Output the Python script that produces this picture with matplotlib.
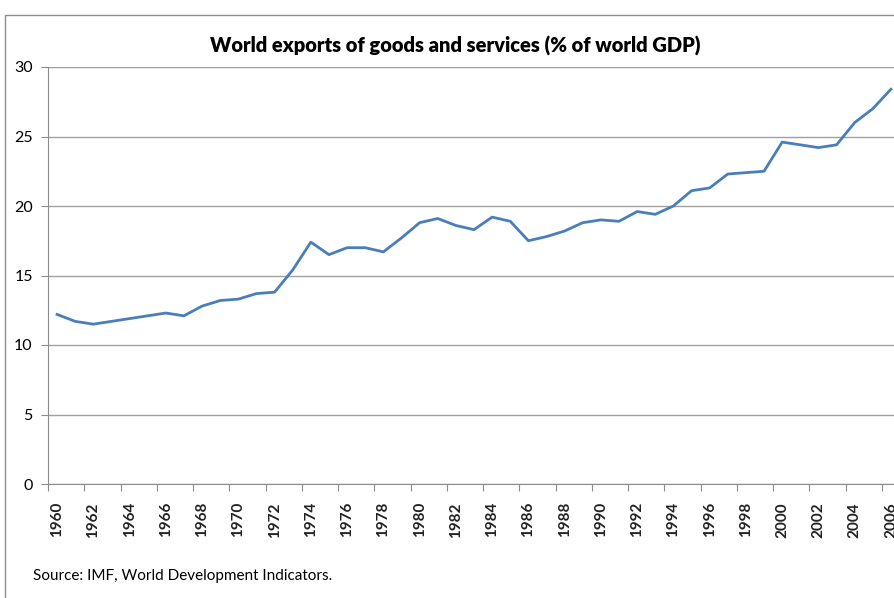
import matplotlib
matplotlib.use('Agg')
import matplotlib.pyplot as plt
from matplotlib.patches import Rectangle

# World exports of goods and services, % of world GDP
years = list(range(1960, 2007))
exports_pct = [
    12.2, 11.7, 11.5, 11.7, 11.9, 12.1, 12.3, 12.1, 12.8, 13.2,
    13.3, 13.7, 13.8, 15.4, 17.4, 16.5, 17.0, 17.0, 16.7, 17.7,
    18.8, 19.1, 18.6, 18.3, 19.2, 18.9, 17.5, 17.8, 18.2, 18.8,
    19.0, 18.9, 19.6, 19.4, 20.0, 21.1, 21.3, 22.3, 22.4, 22.5,
    24.6, 24.4, 24.2, 24.4, 26.0, 27.0, 28.4,
]
label_years = list(range(1960, 2007, 2))
y_ticks = [0, 5, 10, 15, 20, 25, 30]

plt.rcParams['font.family'] = ['Lato', 'DejaVu Sans']

W, H = 894, 598
fig = plt.figure(figsize=(W / 100, H / 100), dpi=100)

# chart-area border (runs off the right and bottom of the picture)
fig.patches.append(Rectangle((5 / W, -0.05), 1.2, (H - 15) / H + 0.05,
                             transform=fig.transFigure, fill=False,
                             edgecolor='#8c8c8c', linewidth=1.0))

# plot area runs past the right edge, like the cropped original
left, right, top, bottom = 48, 900, 67, 484
ax = fig.add_axes([left / W, (H - bottom) / H, (right - left) / W, (bottom - top) / H])

ax.plot(years, exports_pct, color='#4a7ebb', linewidth=2.0, solid_joinstyle='round')

ax.set_xlim(1959.5, 2006.5)
ax.set_ylim(0, 30)
ax.set_yticks(y_ticks)
ax.yaxis.grid(True, color='#a0a0a0', linewidth=1.0)
ax.set_axisbelow(True)

# tick marks between categories, labels on the categories
ax.set_xticks([y - 0.5 for y in label_years])
ax.set_xticklabels([])
ax.set_xticks(label_years, minor=True)
ax.set_xticklabels([str(y) for y in label_years], minor=True, rotation=90,
                   fontsize=11, fontweight='bold', color='#222222')
ax.tick_params(axis='x', which='major', length=5, color='#8c8c8c', direction='out')
ax.tick_params(axis='x', which='minor', length=0, pad=13)
ax.tick_params(axis='y', length=5, color='#8c8c8c', labelsize=11.5, pad=6)

for s in ('top', 'right'):
    ax.spines[s].set_visible(False)
for s in ('left', 'bottom'):
    ax.spines[s].set_color('#8c8c8c')

fig.text(455 / W, 1 - 46 / H, 'World exports of goods and services (% of world GDP)',
         ha='center', va='center', fontsize=14.5, fontweight='heavy')
fig.text(33 / W, 1 - 576 / H, 'Source: IMF, World Development Indicators.',
         ha='left', va='center', fontsize=11)

fig.savefig('out.png', dpi=100)
